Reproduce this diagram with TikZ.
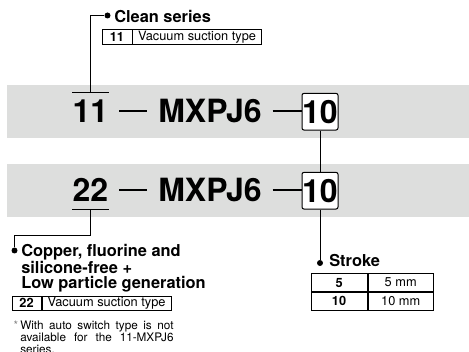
\documentclass[tikz,border=0pt]{standalone}
\usepackage{fontspec}
\setmainfont{TeX Gyre Heros}
\usepackage{tikz}
\usetikzlibrary{positioning}
\definecolor{bandgray}{RGB}{221,222,221}

\begin{document}
\begin{tikzpicture}[
  x=0.75pt,y=-0.75pt,
  code/.style={font=\fontsize{24}{24}\selectfont\bfseries,inner sep=0pt},
  codebox/.style={code,draw,fill=white,rounded corners=1.5pt,line width=0.75pt,minimum width=27pt,minimum height=27.5pt},
  caption/.style={font=\fontsize{12.3}{11.3}\selectfont\bfseries,inner sep=0pt,align=left},
  cell/.style={draw,line width=0.6pt,inner sep=0pt,minimum height=10.7pt,font=\fontsize{9.6}{9.6}\selectfont},
  keycell/.style={cell,font=\fontsize{9.6}{9.6}\selectfont\bfseries},
  pin/.style={circle,fill,inner sep=0pt,minimum size=4.5pt},
  lead/.style={line width=0.75pt},
  dashline/.style={line width=1.6pt}
]

\useasboundingbox (0,0) rectangle (469,352);

\fill[bandgray] (7,85) rectangle (469,137.7);
\fill[bandgray] (7,164) rectangle (469,217);

\node[code,anchor=base] (code11) at (90.5,122.7) {11};
\node[code,anchor=base] (series1) at (210,122.7) {MXPJ6};
\node[codebox] (stroke1) at (320,111.7) {10};
\draw[dashline,shorten <=8pt,shorten >=8.5pt] (code11.east) -- (code11.east -| series1.west);
\draw[dashline,shorten <=8pt] (series1.east) -- (series1.east -| stroke1.west);

\node[code,anchor=base] (code22) at (90.5,201.7) {22};
\node[code,anchor=base] (series2) at (210,201.7) {MXPJ6};
\node[codebox] (stroke2) at (320,190.7) {10};
\draw[dashline,shorten <=8pt,shorten >=8.5pt] (code22.east) -- (code22.east -| series2.west);
\draw[dashline,shorten <=8pt] (series2.east) -- (series2.east -| stroke2.west);

\draw[lead] ([yshift=5.8pt]code11.north west) -- ([yshift=5.8pt]code11.north east);
\coordinate (over11) at ([yshift=5.8pt]code11.north);
\draw[lead] ([yshift=-5.5pt]code22.base west) -- ([yshift=-5.5pt]code22.base east);
\coordinate (under22) at ([yshift=-5.5pt]code22.base);

\node[pin] (cleanpin) at (107.5,15.5) {};
\node[caption,anchor=base west] (cleanlbl) at (114,23) {Clean series};
\draw[lead] (over11) |- (cleanpin);
\node[keycell,minimum width=22.5pt,anchor=north west] (clean11) at (101.5,29.3) {11};
\node[cell,minimum width=96.5pt,right=0pt of clean11] (clean11txt) {Vacuum suction type};

\node[pin] (copperpin) at (14.5,250.5) {};
\node[caption,anchor=north west] (copperlbl) at (21,244) {Copper, fluorine and\\silicone-free +\\Low particle generation};
\coordinate (copperbend) at (90.5,236);
\draw[lead] (under22) -- (copperbend) -| (copperpin);
\node[keycell,minimum width=21.75pt,anchor=north west] (copper22) at (11.7,295.7) {22};
\node[cell,minimum width=97pt,right=0pt of copper22] (copper22txt) {Vacuum suction type};

\node[anchor=north west,inner sep=0pt,text width=115pt,align=justify,font=\fontsize{8.8}{9}\selectfont] (note) at (20,321)
  {\noindent\llap{\color{black!50}*\hspace{1.5pt}}With auto switch type is not\linebreak available for the 11-MXPJ6\linebreak series.};

\draw[lead] (stroke1) -- (stroke2);
\node[pin] (strokepin) at (320,263) {};
\draw[lead] (stroke2) -- (strokepin);
\node[caption,anchor=base west] (strokelbl) at (329,266.7) {Stroke};
\node[keycell,minimum width=42pt,minimum height=13.4pt,anchor=north west] (stroke5) at (310.7,273.3) {5};
\node[cell,minimum width=49.2pt,minimum height=13.4pt,right=0pt of stroke5] (stroke5mm) {5 mm};
\node[keycell,minimum width=42pt,minimum height=13.4pt,below=0pt of stroke5] (stroke10) {10};
\node[cell,minimum width=49.2pt,minimum height=13.4pt,right=0pt of stroke10] (stroke10mm) {10 mm};

\end{tikzpicture}
\end{document}
